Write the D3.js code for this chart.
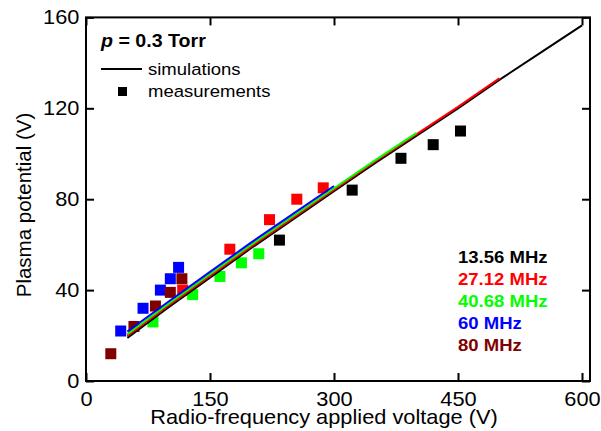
<!DOCTYPE html>
<html>
<head>
<meta charset="utf-8">
<script src="https://cdn.jsdelivr.net/npm/d3@7"></script>
<style>
  html, body { margin: 0; padding: 0; background: #fff; }
  text { font-family: "Liberation Sans", Arial, sans-serif; }
</style>
</head>
<body>
<div id="chart"></div>
<script>
// frequencies
const freqLabels = ["13.56 MHz", "27.12 MHz", "40.68 MHz", "60 MHz", "80 MHz"];
const freqColors = ["#000000", "#ff0000", "#00ff00", "#0000ff", "#800000"];

// measurements (applied voltage V, plasma potential V)
const measV_13 = [234, 322, 381, 420, 453];
const measP_13 = [62, 84, 98, 104, 110];
const measV_27 = [117, 174, 222, 255, 287];
const measP_27 = [40, 58, 71, 80, 85];
const measV_40 = [81, 129, 162, 188, 209];
const measP_40 = [26, 38, 46, 52, 56];
const measV_60 = [42, 69, 90, 102, 112];
const measP_60 = [22, 32, 40, 45, 50];
const measV_80 = [30, 58, 84, 102, 116];
const measP_80 = [12, 24, 33, 39, 45];

// simulations
const simV = [50, 100, 150, 200, 250, 300, 350, 400, 450, 500, 550, 600];
const simP_13 = [19, 32.5, 45.5, 58.5, 71, 83.5, 96, 108, 120, 132.5, 144.5, 156.5];
const simP_27 = [19.8, 33.2, 46.2, 59.2, 71.7, 84.2, 96.6, 108.6, 120.6, 133.2];
const simP_40 = [20.6, 34, 47, 60, 72.4, 84.8, 97.2, 109.2];
const simP_60 = [21.8, 35, 48, 61, 73.4, 85.8];
const simP_80 = [20.4, 33.8, 46.8, 59.8, 72.2];

const xTicks = [0, 150, 300, 450, 600];
const yTicks = [0, 40, 80, 120, 160];

const width = 601, height = 431;
const mLeft = 86, mRight = 582, frameRight = 590, mTop = 17.4, mBottom = 381;
const sx = 1.09; // text in the original is a little wider than tall

const svg = d3.select("#chart").append("svg")
    .attr("width", width)
    .attr("height", height);

const x = d3.scaleLinear().domain([0, 600]).range([mLeft, mRight]);
const y = d3.scaleLinear().domain([0, 160]).range([mBottom, mTop]);

const measured = [
    [measV_13, measP_13, 0],
    [measV_27, measP_27, 1],
    [measV_40, measP_40, 2],
    [measV_60, measP_60, 3],
    [measV_80, measP_80, 4]
];
const simulated = [
    [simP_13, 0],
    [simP_80, 4],
    [simP_27, 1],
    [simP_40, 2],
    [simP_60, 3]
];

// markers
const ms = 11;
measured.forEach(([vs, ps, k]) => {
    svg.append("g").selectAll("rect")
        .data(vs.map((v, i) => ({ v: v, p: ps[i] })))
        .enter()
        .append("rect")
        .attr("x", d => x(d.v) - ms / 2)
        .attr("y", d => y(d.p) - ms / 2)
        .attr("width", ms)
        .attr("height", ms)
        .attr("fill", freqColors[k]);
});

// simulation lines
const line = d3.line()
    .x(d => x(d.v))
    .y(d => y(d.p));

simulated.forEach(([ps, k]) => {
    svg.append("path")
        .datum(ps.map((p, i) => ({ v: simV[i], p: p })))
        .attr("d", line)
        .attr("fill", "none")
        .attr("stroke", freqColors[k])
        .attr("stroke-width", 2);
});

// axes, ticks inward
const xAxis = svg.append("g")
    .attr("transform", `translate(0,${mBottom})`)
    .call(d3.axisBottom(x).tickValues(xTicks).tickSize(-8).tickPadding(11));
const yAxis = svg.append("g")
    .attr("transform", `translate(${mLeft},0)`)
    .call(d3.axisLeft(y).tickValues(yTicks).tickSize(-8).tickPadding(6));
const xTop = svg.append("g")
    .attr("transform", `translate(0,${mTop})`)
    .call(d3.axisTop(x).tickValues(xTicks).tickSize(-8).tickFormat(""));
const yRight = svg.append("g")
    .attr("transform", `translate(${frameRight},0)`)
    .call(d3.axisRight(y).tickValues(yTicks).tickSize(-8).tickFormat(""));

[xAxis, yAxis, xTop, yRight].forEach(g => {
    g.select(".domain").remove();
    g.selectAll(".tick line").attr("stroke", "#000").attr("stroke-width", 2);
    g.selectAll(".tick text")
        .attr("fill", "#000")
        .attr("transform", `scale(${sx},1)`)
        .style("font-family", "'Liberation Sans', Arial, sans-serif")
        .style("font-size", "20px");
});

svg.append("rect")
    .attr("x", mLeft)
    .attr("y", mTop)
    .attr("width", frameRight - mLeft)
    .attr("height", mBottom - mTop)
    .attr("fill", "none")
    .attr("stroke", "#000")
    .attr("stroke-width", 2);

// text helper: place at (px, py), stretched horizontally
function label(px, py, str, size, anchor) {
    return svg.append("text")
        .attr("transform", `translate(${px},${py}) scale(${sx},1)`)
        .attr("text-anchor", anchor || "start")
        .style("font-size", size)
        .text(str);
}

// axis titles
label(324, 424, "Radio-frequency applied voltage (V)", "20px", "middle");

svg.append("text")
    .attr("transform", "translate(31,205) rotate(-90)")
    .attr("text-anchor", "middle")
    .style("font-size", "20.5px")
    .text("Plasma potential (V)");

// pressure label
const pLabel = label(101, 47, "", "18px").style("font-weight", "bold");
pLabel.append("tspan").style("font-style", "italic").text("p");
pLabel.append("tspan").text(" = 0.3 Torr");

// legend top-left
svg.append("line")
    .attr("x1", 101).attr("x2", 142)
    .attr("y1", 69).attr("y2", 69)
    .attr("stroke", "#000")
    .attr("stroke-width", 2);
label(148, 75, "simulations", "17px");
svg.append("rect")
    .attr("x", 118).attr("y", 87)
    .attr("width", 9).attr("height", 9)
    .attr("fill", "#000");
label(148, 97, "measurements", "17px");

// frequency legend
freqLabels.forEach((d, i) => {
    label(458, 263 + i * 22, d, "17px")
        .attr("fill", freqColors[i])
        .style("font-weight", "bold");
});
</script>
</body>
</html>
